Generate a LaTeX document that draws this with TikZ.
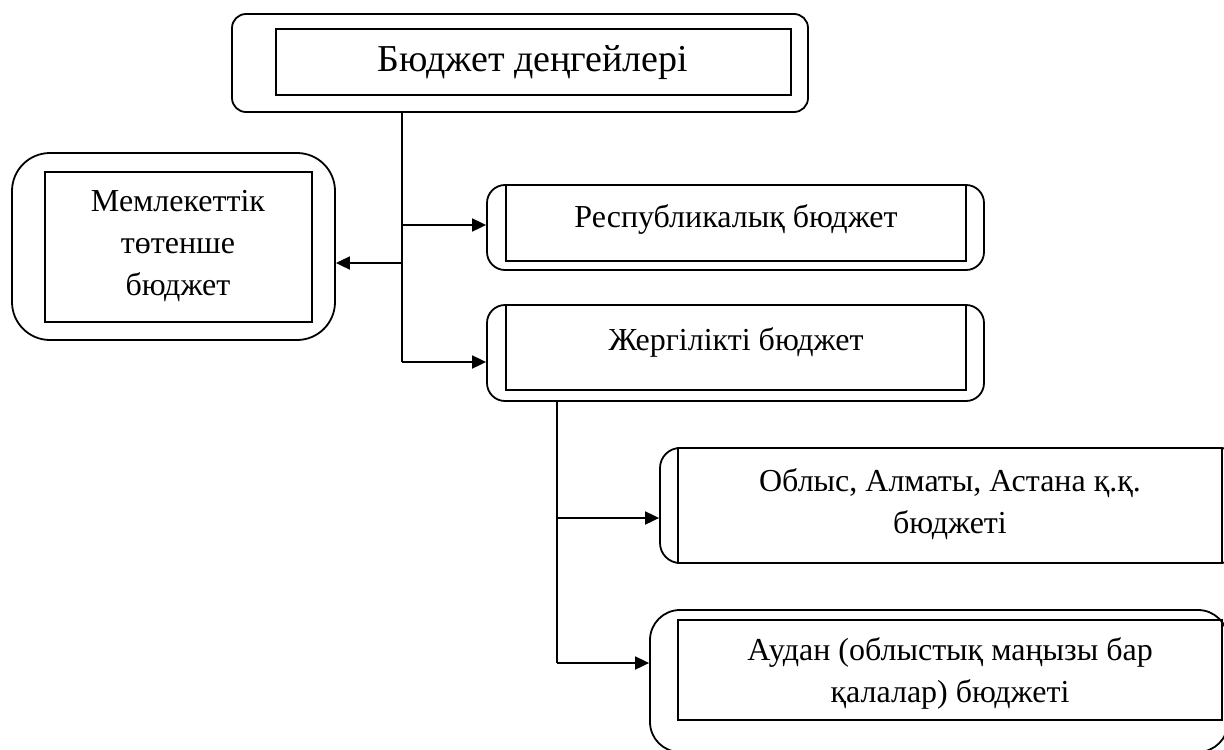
\documentclass[tikz,border=0pt]{standalone}
\usepackage{fontspec}
\setmainfont{Liberation Serif}
\usetikzlibrary{arrows.meta,fit}
\tikzset{
  outerbox/.style={draw, line width=0.9pt, rounded corners=#1, inner sep=0pt},
  outerbox/.default=8pt,
  innerbox/.style={draw, line width=0.75pt, inner sep=0pt},
  lbl/.style={align=center, inner sep=0pt, font=\fontsize{16}{21}\selectfont},
  trunk/.style={line width=0.7pt},
  arr/.style={line width=0.9pt, -{Triangle[length=7pt,width=6.5pt]}},
}
\begin{document}
\begin{tikzpicture}[x=0.5pt, y=-0.5pt]
  \useasboundingbox (0,0) rectangle (1224,749);
  % top level
  \node[outerbox=7pt, fit={(232,14) (808,112)}] (top) {};
  \node[innerbox, fit={(276,29) (791,95)}] (topin) {};
  \node[lbl, font=\fontsize{19}{23}\selectfont] (toptxt) at (533,63) {Бюджет деңгейлері};
  % state emergency budget
  \node[outerbox=19pt, fit={(12,153) (335,340)}] (state) {};
  \node[innerbox, fit={(45,172) (312,322)}] (statein) {};
  \node[lbl] (statetxt) at (178,246) {Мемлекеттік\\төтенше\\бюджет};
  % republic and local budgets
  \node[outerbox=9pt, fit={(487,185) (984,270)}] (rep) {};
  \node[innerbox, fit={(506,185) (966,261)}] (repin) {};
  \node[lbl] (reptxt) at (736,219) {Республикалық бюджет};
  \node[outerbox=9pt, fit={(487,305) (984,401)}] (loc) {};
  \node[innerbox, fit={(506,305) (966,390)}] (locin) {};
  \node[lbl] (loctxt) at (736,342) {Жергілікті бюджет};
  % local levels
  \node[outerbox=10pt, fit={(660,448) (1240,563)}] (obl) {};
  \node[innerbox, fit={(678,448) (1222,563)}] (oblin) {};
  \node[lbl] (obltxt) at (950,504) {Облыс, Алматы, Астана қ.қ.\\бюджеті};
  \node[outerbox=15pt, fit={(650,610) (1228,752)}] (aud) {};
  \node[innerbox, fit={(678,620) (1222,720)}] (audin) {};
  \node[lbl] (audtxt) at (950,673) {Аудан (облыстық маңызы бар\\қалалар) бюджеті};
  % branch points
  \coordinate (b1) at (402,225);
  \coordinate (b2) at (402,263);
  \coordinate (b3) at (402,362);
  \coordinate (c1) at (557,518);
  \coordinate (c2) at (557,663);
  % connectors
  \draw[trunk] (top.south -| b1) -- (b3);
  \draw[arr] (b1) -- (b1 -| rep.west);
  \draw[arr] (b2) -- (b2 -| state.east);
  \draw[arr] (b3) -- (b3 -| loc.west);
  \draw[trunk] (loc.south -| c1) -- (c2);
  \draw[arr] (c1) -- (c1 -| obl.west);
  \draw[arr] (c2) -- (c2 -| aud.west);
\end{tikzpicture}
\end{document}
